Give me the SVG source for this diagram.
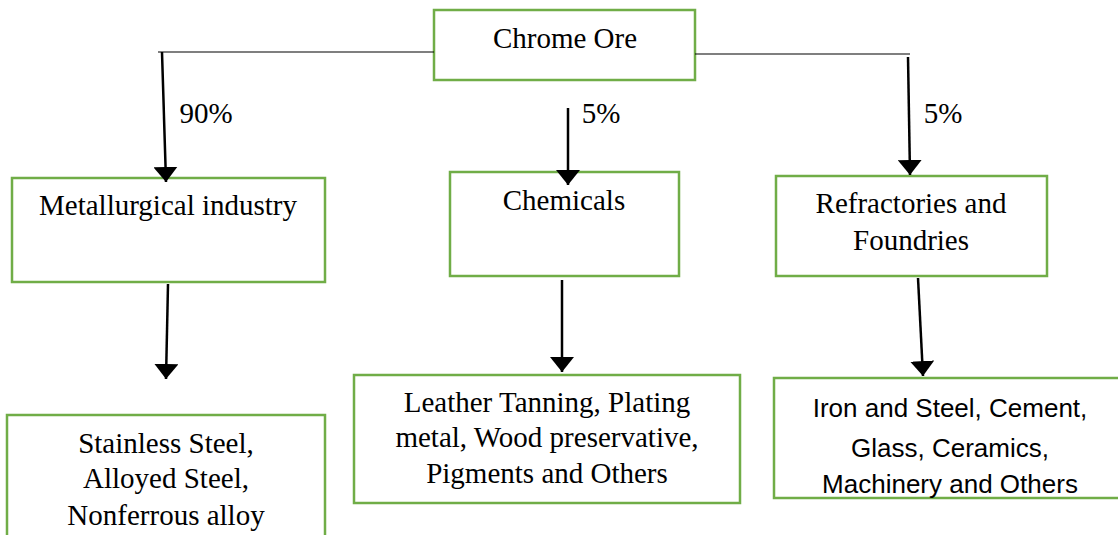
<svg xmlns="http://www.w3.org/2000/svg" width="1118" height="535" viewBox="0 0 1118 535">
<style>
.box{fill:#fff;stroke:#70AD47;stroke-width:2.5}
.t{font-family:"Liberation Serif","Times New Roman",serif;font-size:29px;fill:#000;text-anchor:middle}
.s{font-family:"Liberation Sans",Arial,sans-serif;font-size:26px;fill:#000;text-anchor:middle}
.ln{stroke:#000;stroke-width:1.2;fill:none}
.ar{stroke:#000;stroke-width:2.5;fill:none;marker-end:url(#ah2)}
</style>
<defs>
<marker id="ah2" viewBox="0 0 15 24" refX="15" refY="12" markerWidth="15" markerHeight="24" orient="auto" markerUnits="userSpaceOnUse">
<path d="M0,0 L15,12 L0,24 Z" fill="#000"/>
</marker>
<clipPath id="ironclip"><rect x="774" y="378" width="344" height="120"/></clipPath>
</defs>
<g id="chrome-ore">
<rect class="box" x="434" y="10" width="261" height="70"/>
<text class="t" x="565" y="48">Chrome Ore</text>
</g>
<g id="metallurgical">
<rect class="box" x="12" y="178" width="313" height="104"/>
<text class="t" x="168" y="215">Metallurgical industry</text>
</g>
<g id="chemicals">
<rect class="box" x="450" y="172" width="229" height="104"/>
<text class="t" x="564" y="210">Chemicals</text>
</g>
<g id="refractories">
<rect class="box" x="776" y="176" width="271" height="100"/>
<text class="t" x="911" y="213">Refractories and</text>
<text class="t" x="911" y="250">Foundries</text>
</g>
<g id="stainless">
<rect class="box" x="7" y="415" width="318" height="140"/>
<text class="t" x="166" y="453">Stainless Steel,</text>
<text class="t" x="166" y="488">Alloyed Steel,</text>
<text class="t" x="166" y="525">Nonferrous alloy</text>
</g>
<g id="leather">
<rect class="box" x="354" y="375" width="386" height="128"/>
<text class="t" x="547" y="412">Leather Tanning, Plating</text>
<text class="t" x="547" y="447">metal, Wood preservative,</text>
<text class="t" x="547" y="483">Pigments and Others</text>
</g>
<g id="iron">
<rect class="box" x="774" y="378" width="360" height="120"/>
<g clip-path="url(#ironclip)">
<text class="s" x="950" y="417">Iron and Steel, Cement,</text>
<text class="s" x="950" y="457">Glass, Ceramics,</text>
<text class="s" x="950" y="493">Machinery and Others</text>
</g>
</g>
<g id="connectors">
<line class="ln" x1="158" y1="52" x2="434" y2="52"/>
<line class="ln" x1="695" y1="54" x2="910" y2="54"/>
<line class="ar" x1="162" y1="52" x2="166" y2="182"/>
<line class="ar" x1="568" y1="108" x2="568" y2="185"/>
<line class="ar" x1="908" y1="57" x2="910" y2="175"/>
<line class="ar" x1="168" y1="284" x2="166" y2="379"/>
<line class="ar" x1="562" y1="280" x2="562" y2="372"/>
<line class="ar" x1="918" y1="278" x2="923" y2="376"/>
<text class="t" x="206" y="123">90%</text>
<text class="t" x="601" y="123">5%</text>
<text class="t" x="943" y="123">5%</text>
</g>
</svg>
